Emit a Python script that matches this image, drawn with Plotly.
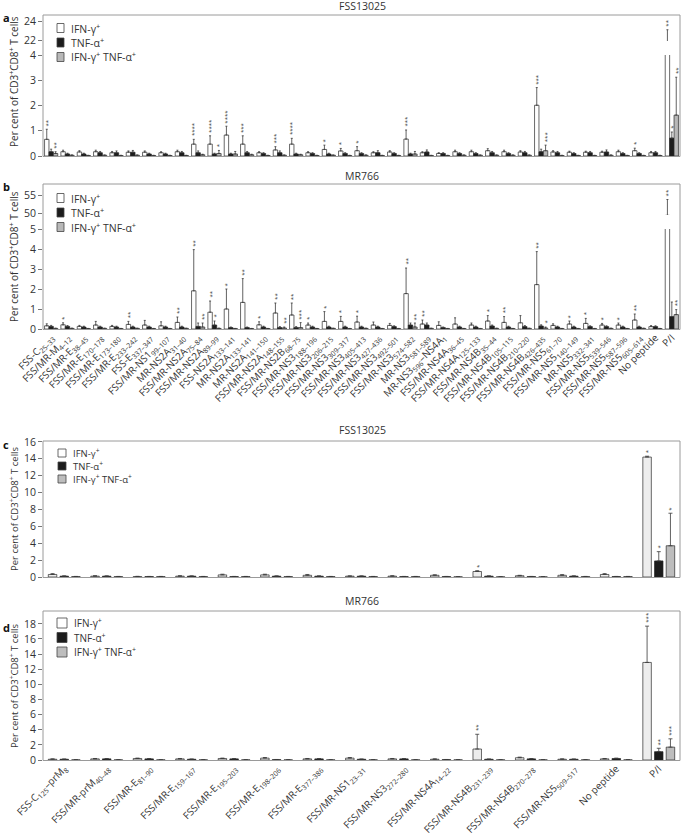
import plotly.graph_objects as go

W, H = 685, 837
FONT = "Open Sans, Noto Sans, sans-serif"
TXT = "#333333"


def px(x):
    return x / W


def py(y):
    return 1 - y / H


# ---------------- categories ----------------
labels_ab = [
    "FSS-C<sub>25–33</sub>", "FSS/MR-M<sub>4–12</sub>", "FSS/MR-E<sub>38–45</sub>",
    "FSS/MR-E<sub>170–178</sub>", "FSS/MR-E<sub>173–180</sub>", "FSS/MR-E<sub>233–242</sub>",
    "FSS-E<sub>337–347</sub>", "FSS/MR-NS1<sub>99–107</sub>", "MR-NS2A<sub>31–40</sub>",
    "FSS/MR-NS2A<sub>75–84</sub>", "FSS/MR-NS2A<sub>89–99</sub>", "FSS-NS2A<sub>133–141</sub>",
    "MR-NS2A<sub>133–141</sub>", "MR-NS2A<sub>141–150</sub>", "FSS/MR-NS2A<sub>148–155</sub>",
    "FSS/MR-NS2B<sub>68–75</sub>", "FSS/MR-NS3<sub>188–196</sub>", "FSS/MR-NS3<sub>206–215</sub>",
    "FSS/MR-NS3<sub>309–317</sub>", "FSS/MR-NS3<sub>405–413</sub>", "FSS/MR-NS3<sub>427–436</sub>",
    "FSS/MR-NS3<sub>492–501</sub>", "FSS/MR-NS3<sub>574–582</sub>", "MR-NS3<sub>581–589</sub>",
    "MR-NS3<sub>596</sub>–NS4A<sub>1</sub>", "FSS/MR-NS4A<sub>36–45</sub>", "FSS/MR-NS4A<sub>125–133</sub>",
    "FSS/MR-NS4B<sub>35–44</sub>", "FSS/MR-NS4B<sub>105–115</sub>", "FSS/MR-NS4B<sub>210–220</sub>",
    "FSS/MR-NS4B<sub>426–435</sub>", "FSS/MR-NS5<sub>61–70</sub>", "FSS/MR-NS5<sub>140–149</sub>",
    "MR-NS5<sub>332–341</sub>", "FSS/MR-NS5<sub>539–546</sub>", "FSS/MR-NS5<sub>587–596</sub>",
    "FSS/MR-NS5<sub>605–614</sub>", "No peptide", "P/I",
]
labels_cd = [
    "FSS-C<sub>125</sub>–prM<sub>8</sub>", "FSS/MR-prM<sub>40–48</sub>", "FSS/MR-E<sub>81–90</sub>",
    "FSS/MR-E<sub>159–167</sub>", "FSS/MR-E<sub>195–203</sub>", "FSS/MR-E<sub>198–206</sub>",
    "FSS/MR-E<sub>377–386</sub>", "FSS/MR-NS1<sub>23–31</sub>", "FSS/MR-NS3<sub>272–280</sub>",
    "FSS/MR-NS4A<sub>14–22</sub>", "FSS/MR-NS4B<sub>231–239</sub>", "FSS/MR-NS4B<sub>270–278</sub>",
    "FSS/MR-NS5<sub>509–517</sub>", "No peptide", "P/I",
]
series_names = ["IFN-γ<sup>+</sup>", "TNF-α<sup>+</sup>", "IFN-γ<sup>+</sup> TNF-α<sup>+</sup>"]

# ---------------- panel a (FSS13025, 39 peptides) ----------------
ifn_a = [0.66, 0.17, 0.16, 0.17, 0.13, 0.15, 0.15, 0.13, 0.17, 0.47, 0.47, 0.83, 0.47, 0.13, 0.24, 0.47, 0.13, 0.26, 0.20, 0.21,
         0.13, 0.16, 0.67, 0.13, 0.10, 0.17, 0.17, 0.21, 0.17, 0.16, 2.01, 0.16, 0.15, 0.15, 0.15, 0.17, 0.21, 0.13, 21.8]
ifn_a_err = [0.40, 0.06, 0.05, 0.06, 0.05, 0.05, 0.05, 0.04, 0.06, 0.19, 0.33, 0.35, 0.33, 0.04, 0.13, 0.23, 0.04, 0.17, 0.10, 0.16,
             0.04, 0.05, 0.36, 0.04, 0.03, 0.06, 0.06, 0.08, 0.06, 0.05, 0.70, 0.05, 0.04, 0.04, 0.04, 0.06, 0.10, 0.05, 1.3]
tnf_a = [0.17, 0.08, 0.08, 0.13, 0.13, 0.15, 0.08, 0.08, 0.13, 0.13, 0.08, 0.08, 0.13, 0.10, 0.13, 0.08, 0.10, 0.08, 0.10, 0.10,
         0.13, 0.10, 0.08, 0.16, 0.10, 0.10, 0.10, 0.13, 0.10, 0.13, 0.17, 0.13, 0.10, 0.13, 0.16, 0.10, 0.10, 0.13, 0.71]
tnf_a_err = [0.10, 0.03, 0.03, 0.05, 0.07, 0.07, 0.03, 0.03, 0.05, 0.07, 0.03, 0.03, 0.05, 0.03, 0.07, 0.03, 0.03, 0.03, 0.03, 0.03,
             0.08, 0.03, 0.03, 0.08, 0.03, 0.03, 0.03, 0.05, 0.03, 0.05, 0.10, 0.05, 0.03, 0.05, 0.08, 0.03, 0.03, 0.05, 0.24]
dbl_a = [0.10, 0.03, 0.02, 0.03, 0.02, 0.03, 0.02, 0.02, 0.02, 0.05, 0.10, 0.08, 0.05, 0.02, 0.03, 0.05, 0.02, 0.03, 0.02, 0.03,
         0.02, 0.02, 0.08, 0.02, 0.02, 0.03, 0.03, 0.03, 0.03, 0.03, 0.21, 0.02, 0.02, 0.02, 0.03, 0.02, 0.02, 0.02, 1.62]
dbl_a_err = [0.07, 0.01, 0.01, 0.01, 0.01, 0.01, 0.01, 0.01, 0.01, 0.02, 0.12, 0.10, 0.02, 0.01, 0.01, 0.02, 0.01, 0.01, 0.01, 0.01,
             0.01, 0.01, 0.10, 0.01, 0.01, 0.01, 0.01, 0.01, 0.01, 0.01, 0.22, 0.01, 0.01, 0.01, 0.01, 0.01, 0.01, 0.01, 1.50]
ifn_a_sig = ["**", "", "", "", "", "", "", "", "", "****", "****", "****", "***", "", "***", "****", "", "*", "*", "*",
             "", "", "***", "", "", "", "", "", "", "", "***", "", "", "", "", "", "*", "", "**"]
tnf_a_sig = [""] * 38 + ["*"]
dbl_a_sig = ["**", "", "", "", "", "", "", "", "", "", "*", "", "", "", "", "", "", "", "", "",
             "", "", "", "", "", "", "", "", "", "", "***", "", "", "", "", "", "", "", "**"]

# ---------------- panel b (MR766, 39 peptides) ----------------
ifn_b = [0.16, 0.21, 0.13, 0.20, 0.13, 0.23, 0.20, 0.16, 0.33, 1.91, 0.84, 1.00, 1.33, 0.21, 0.80, 0.70, 0.20, 0.38, 0.38, 0.35,
         0.20, 0.18, 1.77, 0.25, 0.18, 0.25, 0.20, 0.40, 0.33, 0.31, 2.22, 0.18, 0.25, 0.28, 0.20, 0.20, 0.45, 0.12, 49.5]
ifn_b_err = [0.10, 0.10, 0.05, 0.18, 0.05, 0.15, 0.23, 0.20, 0.27, 2.06, 0.56, 1.00, 1.19, 0.15, 0.50, 0.60, 0.10, 0.49, 0.25, 0.29,
             0.15, 0.10, 1.28, 0.20, 0.18, 0.31, 0.10, 0.27, 0.29, 0.36, 1.65, 0.08, 0.15, 0.25, 0.08, 0.10, 0.30, 0.05, 4.4]
tnf_b = [0.13, 0.13, 0.10, 0.10, 0.10, 0.10, 0.10, 0.10, 0.10, 0.13, 0.20, 0.07, 0.07, 0.10, 0.07, 0.07, 0.10, 0.10, 0.10, 0.10,
         0.10, 0.12, 0.20, 0.20, 0.07, 0.10, 0.10, 0.15, 0.10, 0.12, 0.15, 0.10, 0.10, 0.12, 0.12, 0.10, 0.10, 0.12, 0.62]
tnf_b_err = [0.05, 0.04, 0.04, 0.04, 0.04, 0.04, 0.04, 0.04, 0.04, 0.17, 0.20, 0.03, 0.03, 0.04, 0.05, 0.05, 0.04, 0.04, 0.04, 0.04,
             0.04, 0.04, 0.10, 0.10, 0.03, 0.04, 0.04, 0.05, 0.04, 0.05, 0.06, 0.04, 0.04, 0.04, 0.04, 0.04, 0.04, 0.04, 0.73]
dbl_b = [0.03, 0.03, 0.02, 0.03, 0.02, 0.03, 0.02, 0.02, 0.03, 0.10, 0.03, 0.02, 0.02, 0.02, 0.05, 0.07, 0.02, 0.03, 0.02, 0.03,
         0.02, 0.02, 0.10, 0.03, 0.02, 0.02, 0.02, 0.03, 0.02, 0.03, 0.05, 0.02, 0.02, 0.02, 0.03, 0.02, 0.03, 0.02, 0.72]
dbl_b_err = [0.01, 0.01, 0.01, 0.01, 0.01, 0.01, 0.01, 0.01, 0.01, 0.20, 0.01, 0.01, 0.01, 0.01, 0.05, 0.25, 0.01, 0.01, 0.01, 0.01,
             0.01, 0.01, 0.20, 0.01, 0.01, 0.01, 0.01, 0.01, 0.01, 0.01, 0.05, 0.01, 0.01, 0.01, 0.01, 0.01, 0.01, 0.01, 0.25]
ifn_b_sig = ["", "*", "", "", "", "**", "", "", "**", "**", "**", "*", "**", "*", "**", "**", "*", "*", "*", "*",
             "", "", "**", "**", "", "", "", "*", "**", "", "**", "", "*", "*", "*", "*", "**", "", "**"]
tnf_b_sig = ["", "", "", "", "", "", "", "", "", "", "*"] + [""] * 28
dbl_b_sig = ["", "", "", "", "", "", "", "", "", "**", "", "", "", "", "**", "***", "", "", "", "",
             "", "", "**", "", "", "", "", "", "", "", "*", "", "", "", "", "", "", "", "**"]

# ---------------- panel c (FSS13025, 15 peptides) ----------------
ifn_c = [0.30, 0.10, 0.05, 0.10, 0.25, 0.25, 0.20, 0.10, 0.10, 0.20, 0.65, 0.15, 0.20, 0.30, 14.2]
ifn_c_err = [0.10, 0.05, 0.03, 0.05, 0.08, 0.08, 0.10, 0.03, 0.05, 0.06, 0.10, 0.05, 0.08, 0.10, 0.10]
tnf_c = [0.10, 0.10, 0.05, 0.10, 0.05, 0.10, 0.10, 0.10, 0.05, 0.05, 0.10, 0.05, 0.10, 0.05, 1.90]
tnf_c_err = [0.03, 0.03, 0.02, 0.03, 0.02, 0.03, 0.03, 0.03, 0.02, 0.02, 0.03, 0.02, 0.03, 0.02, 1.10]
dbl_c = [0.05, 0.05, 0.05, 0.05, 0.05, 0.05, 0.05, 0.05, 0.05, 0.02, 0.02, 0.02, 0.05, 0.05, 3.70]
dbl_c_err = [0.02, 0.02, 0.02, 0.02, 0.02, 0.02, 0.02, 0.02, 0.02, 0.01, 0.01, 0.01, 0.02, 0.02, 3.85]
ifn_c_sig = [""] * 10 + ["*", "", "", "", "*"]
tnf_c_sig = [""] * 14 + ["*"]
dbl_c_sig = [""] * 14 + ["*"]

# ---------------- panel d (MR766, 15 peptides) ----------------
ifn_d = [0.10, 0.15, 0.20, 0.15, 0.20, 0.25, 0.15, 0.25, 0.15, 0.10, 1.45, 0.30, 0.10, 0.15, 12.9]
ifn_d_err = [0.05, 0.05, 0.05, 0.05, 0.05, 0.08, 0.05, 0.08, 0.05, 0.05, 1.95, 0.08, 0.05, 0.05, 4.80]
tnf_d = [0.10, 0.15, 0.15, 0.10, 0.15, 0.05, 0.15, 0.10, 0.15, 0.05, 0.10, 0.15, 0.10, 0.20, 1.10]
tnf_d_err = [0.03, 0.03, 0.03, 0.03, 0.03, 0.02, 0.03, 0.03, 0.03, 0.02, 0.03, 0.03, 0.03, 0.05, 0.45]
dbl_d = [0.02, 0.02, 0.02, 0.02, 0.02, 0.02, 0.02, 0.02, 0.02, 0.02, 0.02, 0.02, 0.02, 0.02, 1.70]
dbl_d_err = [0.01, 0.01, 0.01, 0.01, 0.01, 0.01, 0.01, 0.01, 0.01, 0.01, 0.01, 0.01, 0.01, 0.01, 1.10]
ifn_d_sig = [""] * 10 + ["**", "", "", "", "***"]
tnf_d_sig = [""] * 14 + ["**"]
dbl_d_sig = [""] * 14 + ["***"]

# ---------------- styling ----------------
FILLS_AB = ["#ffffff", "#1c1c1c", "#b8b8b8"]
FILLS_CD = ["#ededed", "#1c1c1c", "#bdbdbd"]
OUTLINE = "#2a2a2a"
ERRC = "#3a3a3a"
FRAME = "#9a9a9a"

fig = go.Figure()
annotations = []
shapes = []


def add_bars(xa, ya_list, vals, errs, sigs, fills, width, centers, err_w, lower_axis_max, sig_size):
    n = len(vals[0])
    xs = list(range(n))
    for k in range(3):
        for ya in ya_list:
            fig.add_trace(go.Bar(
                x=xs, y=vals[k], width=width, offset=centers[k] - width / 2,
                xaxis=xa, yaxis=ya, showlegend=False, hoverinfo="skip",
                marker=dict(color=fills[k], line=dict(color=OUTLINE, width=0.7)),
                error_y=dict(type="data", symmetric=False, array=errs[k], arrayminus=[0] * n,
                             color=ERRC, thickness=0.8, width=err_w),
            ))
        for i in range(n):
            s = sigs[k][i]
            if not s:
                continue
            top = vals[k][i] + errs[k][i]
            ya = ya_list[0]
            if len(ya_list) > 1 and top > lower_axis_max:
                ya = ya_list[1]
            annotations.append(dict(
                x=i + centers[k], y=top, xref=xa, yref=ya, text=s, showarrow=False,
                textangle=-90, xanchor="center", yanchor="bottom", yshift=1, xshift=1,
                font=dict(size=sig_size, color="#444", family=FONT),
            ))


cab = [-0.27, 0.0, 0.27]
ccd = [-0.275, 0.0, 0.275]

add_bars("x", ["y", "y2"], [ifn_a, tnf_a, dbl_a], [ifn_a_err, tnf_a_err, dbl_a_err],
         [ifn_a_sig, tnf_a_sig, dbl_a_sig], FILLS_AB, 0.27, cab, 1, 4.0, 6)
add_bars("x2", ["y3", "y4"], [ifn_b, tnf_b, dbl_b], [ifn_b_err, tnf_b_err, dbl_b_err],
         [ifn_b_sig, tnf_b_sig, dbl_b_sig], FILLS_AB, 0.27, cab, 1, 5.0, 6)
add_bars("x3", ["y5"], [ifn_c, tnf_c, dbl_c], [ifn_c_err, tnf_c_err, dbl_c_err],
         [ifn_c_sig, tnf_c_sig, dbl_c_sig], FILLS_CD, 0.2, ccd, 2, 99, 6)
add_bars("x4", ["y6"], [ifn_d, tnf_d, dbl_d], [ifn_d_err, tnf_d_err, dbl_d_err],
         [ifn_d_sig, tnf_d_sig, dbl_d_sig], FILLS_CD, 0.2, ccd, 2, 99, 6)

XD = [px(43), px(680)]


def yax(dom_px, rng, tv, fs=10.5):
    return dict(domain=[py(dom_px[0]), py(dom_px[1])], range=rng, tickvals=tv, ticks="outside",
                ticklen=4, tickwidth=1, tickcolor="#777", showgrid=False, zeroline=False,
                showline=False, automargin=False,
                tickfont=dict(size=fs, color=TXT, family=FONT), fixedrange=True)


def xax(anchor, n, labels=None, fs=9.5):
    d = dict(domain=XD, anchor=anchor, range=[-0.5, n - 0.5], showgrid=False, zeroline=False,
             showline=False, ticks="", automargin=False, fixedrange=True)
    if labels is None:
        d["showticklabels"] = False
    else:
        d.update(tickvals=list(range(n)), ticktext=labels, tickangle=-45,
                 tickfont=dict(size=fs, color=TXT, family=FONT))
    return d


fig.update_layout(
    template="none",
    xaxis=xax("y", 39),
    xaxis2=xax("y3", 39, labels_ab, 10),
    xaxis3=xax("y5", 15),
    xaxis4=xax("y6", 15, labels_cd, 10),
    yaxis=dict(yax((156, 55), [0, 4], [0, 1, 2, 3, 4]), anchor="x"),
    yaxis2=dict(yax((41, 15), [21.9, 24.67], [22, 24]), anchor="x"),
    yaxis3=dict(yax((329, 229), [0, 5], [0, 1, 2, 3, 4, 5]), anchor="x2"),
    yaxis4=dict(yax((215, 184), [49.6, 58.2], [50, 55]), anchor="x2"),
    yaxis5=dict(yax((577, 441), [0, 16.1], list(range(0, 17, 2))), anchor="x3"),
    yaxis6=dict(yax((760, 611), [0, 19.7], list(range(0, 19, 2))), anchor="x4"),
)

# frames
for (t, b) in [(15, 156.5), (184, 329.5), (441, 577.5), (611, 760.5)]:
    shapes.append(dict(type="rect", xref="paper", yref="paper", x0=px(43), x1=px(680),
                       y0=py(b), y1=py(t), line=dict(color=FRAME, width=1), layer="above"))


# legends (drawn swatches + text)
def legend(x0, rows, bw, bh, fs, fills):
    for r, f, name in zip(rows, fills, series_names):
        shapes.append(dict(type="rect", xref="paper", yref="paper", x0=px(x0), x1=px(x0 + bw),
                           y0=py(r + bh / 2), y1=py(r - bh / 2), fillcolor=f,
                           line=dict(color="#444", width=0.8)))
        annotations.append(dict(x=px(x0 + bw + 5), y=py(r), xref="paper", yref="paper", text=name,
                                showarrow=False, xanchor="left", yanchor="middle",
                                font=dict(size=fs, color=TXT, family=FONT)))


legend(57, [28, 42.5, 57], 7, 9, 10.5, ["#ffffff", "#1c1c1c", "#b8b8b8"])
legend(57, [198, 212.5, 227], 7, 9, 10.5, ["#ffffff", "#1c1c1c", "#b8b8b8"])
legend(58, [453, 466, 479], 8, 8, 9.5, ["#ffffff", "#1c1c1c", "#bdbdbd"])
legend(57, [623, 637.5, 652], 10, 10, 10, ["#ffffff", "#1c1c1c", "#bdbdbd"])

# titles
for txt, y in [("FSS13025", 6), ("MR766", 176.5), ("FSS13025", 429.5), ("MR766", 601)]:
    annotations.append(dict(x=px(362), y=py(y), xref="paper", yref="paper", text=txt, showarrow=False,
                            xanchor="center", yanchor="middle", font=dict(size=10.5, color=TXT, family=FONT)))

# panel letters
for txt, y in [("a", 18), ("b", 186), ("c", 445), ("d", 627)]:
    annotations.append(dict(x=px(1), y=py(y), xref="paper", yref="paper", text="<b>" + txt + "</b>",
                            showarrow=False, xanchor="left", yanchor="middle",
                            font=dict(size=11, color="#111", family=FONT)))

# y-axis titles
ytitle = "Per cent of CD3<sup>+</sup>CD8<sup>+</sup> T cells"
for y, fs in [(82, 10), (257, 10), (509, 9.5), (686, 9.5)]:
    annotations.append(dict(x=px(14), y=py(y), xref="paper", yref="paper", text=ytitle, showarrow=False,
                            textangle=-90, xanchor="center", yanchor="middle",
                            font=dict(size=fs, color=TXT, family=FONT)))

fig.update_layout(
    width=W, height=H, margin=dict(l=0, r=0, t=0, b=0, autoexpand=False),
    paper_bgcolor="white", plot_bgcolor="white", barmode="overlay", showlegend=False,
    hovermode=False, annotations=annotations, shapes=shapes, font=dict(family=FONT, color=TXT),
)

fig.write_html("out.html", config={"displayModeBar": False, "staticPlot": True},
               post_script="document.body.style.margin='0';document.body.style.padding='0';")
